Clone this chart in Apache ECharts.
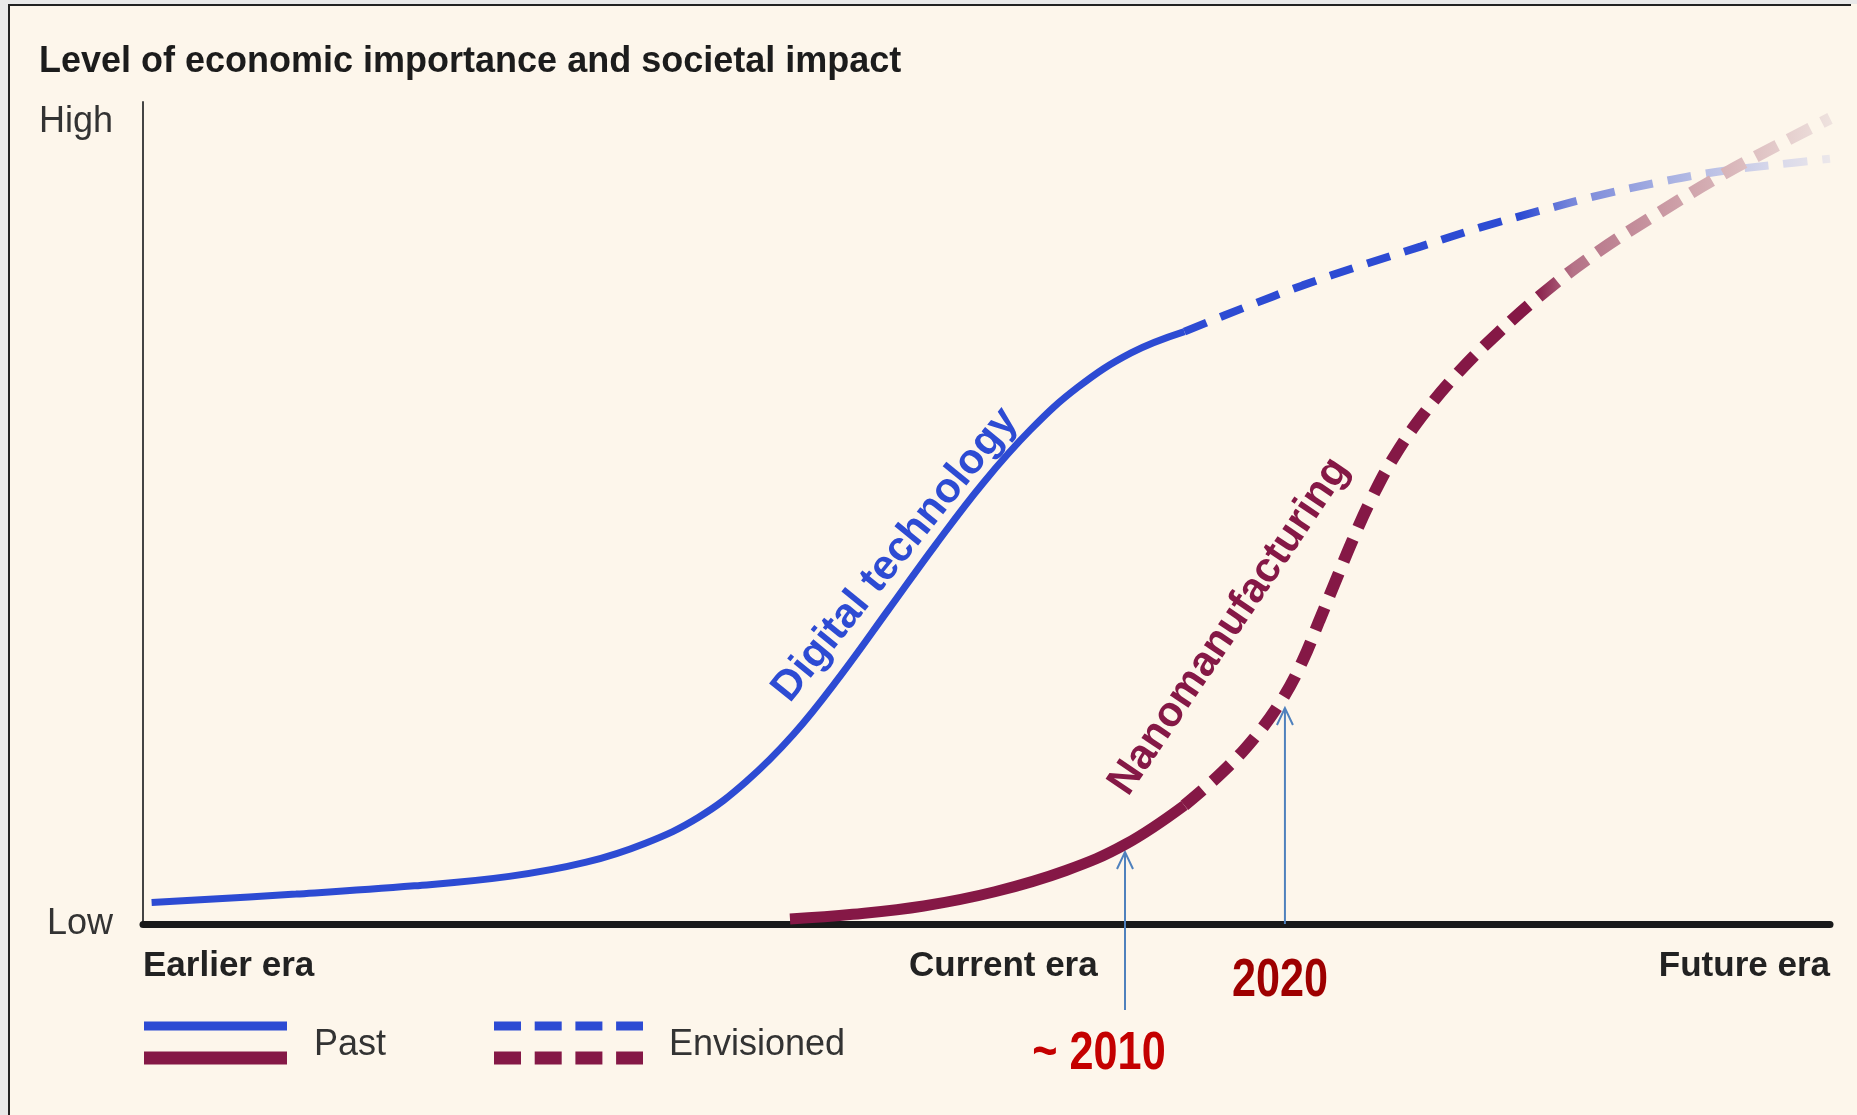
<!DOCTYPE html>
<html>
<head>
<meta charset="utf-8">
<script src="https://cdn.jsdelivr.net/npm/echarts@6/dist/echarts.min.js"></script>
<style>
  html, body { margin: 0; padding: 0; background: #ececec; }
  #main { width: 1857px; height: 1115px; }
</style>
</head>
<body>
<div id="main"></div>
<script>
// era labels on the x axis (value -> text), level labels on the y axis
const eraTicks = {0: 'Earlier era', 51: 'Current era', 100: 'Future era'};
const levelTicks = {0: 'Low', 97.5: 'High'};

// curves, [era, level]
const digitalPast = [
    [0.51, 2.63], [9.07, 3.64], [16.09, 4.64], [21.71, 5.79], [26.27, 7.52],
    [29.78, 9.83], [32.94, 12.99], [35.75, 17.32], [38.56, 23.08], [41.37, 30.28],
    [44.18, 38.21], [46.98, 46.13], [49.79, 53.63], [52.60, 60.11], [55.41, 65.29],
    [58.57, 69.48], [61.73, 72.07]
];
const digitalEnvisioned = [
    [61.73, 72.07], [65.23, 74.95], [68.74, 77.69], [72.25, 80.14], [75.77, 82.44],
    [79.28, 84.74], [82.79, 86.76], [86.30, 88.64], [89.81, 90.22], [93.32, 91.52],
    [96.83, 92.38], [100, 93.10]
];
const nanoPast = [
    [38.35, 0.61], [42.07, 1.18], [46.28, 2.19], [50.49, 3.92], [54.71, 6.51],
    [58.22, 9.68], [61.73, 14.44]
];
const nanoEnvisioned = [
    [61.73, 14.44], [63.98, 18.47], [65.94, 22.80], [67.55, 27.41], [68.74, 32.02],
    [69.73, 36.91], [70.71, 41.81], [71.70, 46.71], [72.82, 51.75], [74.15, 56.80],
    [75.83, 61.84], [77.87, 66.88], [80.33, 71.92], [83.13, 76.97], [86.30, 81.86],
    [89.81, 86.47], [93.32, 90.80], [96.83, 94.68], [100, 98.0]
];

// curve names written along the curves: [era, level, angle]
const curveNames = ['Digital technology', 'Nanomanufacturing'];
const curveNameAt = [[44.6, 44.9, 51], [64.4, 36.2, 56]];

// year arrows: era, level of the tip, level of the tail, level of the year text
const yearLabels = ['~ 2010', '2020'];
const yearX = [58.21, 67.69];
const yearTip = [8.76, 26.28];
const yearTail = [-10.46, 0];
const yearTextLevel = [-15.8, -6.93];

const blue = '#2d4bd3';
const maroon = '#851846';
const arrowBlue = '#4f81bd';
const yearColors = ['#c40000', '#9e0000'];
const yearTextShift = [-26, -5];
const font = '"Liberation Sans", Arial, Helvetica, sans-serif';

const fadeBlue = {
    type: 'linear', x: 0, y: 0, x2: 1, y2: 0,
    colorStops: [
        {offset: 0, color: blue}, {offset: 0.52, color: blue},
        {offset: 0.60, color: '#7887da'}, {offset: 0.75, color: '#a9b2e2'},
        {offset: 0.9, color: '#d5d6ea'}, {offset: 1, color: '#ede8ea'}
    ]
};
const fadeMaroon = {
    type: 'linear', x: 0, y: 0, x2: 1, y2: 0,
    colorStops: [
        {offset: 0, color: maroon}, {offset: 0.54, color: maroon},
        {offset: 0.60, color: '#b57287'}, {offset: 0.75, color: '#cc9da6'},
        {offset: 0.9, color: '#e2c8c8'}, {offset: 1, color: '#efe4e0'}
    ]
};

function curve(name, data, color, width, dash) {
    return {
        name, type: 'line', data, smooth: 0.4, symbol: 'none', clip: false,
        lineStyle: {color, width, type: dash || 'solid', cap: 'butt'},
        silent: true
    };
}

const option = {
    animation: false,
    backgroundColor: '#fdf6eb',
    textStyle: {fontFamily: font},
    title: {
        text: 'Level of economic importance and societal impact',
        left: 39, top: 44, padding: 0,
        textStyle: {fontSize: 36, fontWeight: 'bold', color: '#1c1c1c', fontFamily: font}
    },
    grid: {left: 143, right: 27, top: 102, bottom: 191},
    xAxis: {
        type: 'value', min: 0, max: 100, interval: 51,
        axisLine: {lineStyle: {color: '#1a1a1a', width: 7}},
        axisTick: {show: false},
        splitLine: {show: false},
        axisLabel: {
            formatter: v => eraTicks[v] || '',
            fontSize: 35, fontWeight: 'bold', color: '#222', margin: 25,
            alignMinLabel: 'left', alignMaxLabel: 'right', fontFamily: font
        }
    },
    yAxis: {
        type: 'value', min: 0, max: 100, interval: 97.5,
        axisLine: {show: true, lineStyle: {color: '#444', width: 2}},
        axisTick: {show: false},
        splitLine: {show: false},
        axisLabel: {
            formatter: v => levelTicks[v] || '',
            fontSize: 36, color: '#333', margin: 30, fontFamily: font
        }
    },
    series: [
        curve('Digital technology', digitalPast, blue, 7),
        curve('Digital technology envisioned', digitalEnvisioned, fadeBlue, 8, [24, 15]),
        curve('Nanomanufacturing', nanoPast, maroon, 11),
        curve('Nanomanufacturing envisioned', nanoEnvisioned, fadeMaroon, 12, [24, 13]),
        {
            type: 'scatter', silent: true, symbolSize: 1,
            itemStyle: {color: 'rgba(0,0,0,0)', opacity: 1},
            data: curveNameAt.map((p, i) => ({
                value: [p[0], p[1]],
                label: {
                    show: true, position: 'inside', rotate: p[2],
                    formatter: curveNames[i], fontSize: 42, fontWeight: 'bold',
                    color: i === 0 ? blue : maroon, fontFamily: font, opacity: 1
                }
            }))
        },
        {
            type: 'custom', silent: true, clip: false,
            data: yearX.map((x, i) => [x, yearTip[i], yearTail[i]]),
            renderItem: (params, api) => {
                const tip = api.coord([api.value(0), api.value(1)]);
                const tail = api.coord([api.value(0), api.value(2)]);
                return {
                    type: 'group',
                    children: [
                        {type: 'line', shape: {x1: tail[0], y1: tail[1], x2: tip[0], y2: tip[1]},
                         style: {stroke: arrowBlue, lineWidth: 2}},
                        {type: 'polyline',
                         shape: {points: [[tip[0] - 8, tip[1] + 17], [tip[0], tip[1]], [tip[0] + 8, tip[1] + 17]]},
                         style: {stroke: arrowBlue, lineWidth: 2, fill: null}}
                    ]
                };
            }
        }
    ]
};

const chart = echarts.init(document.getElementById('main'));
chart.setOption(option);

// year texts under the arrows, placed through the grid's own scales
const yearTexts = yearX.map((x, i) => {
    const p = chart.convertToPixel({gridIndex: 0}, [x, yearTextLevel[i]]);
    return {
        type: 'text', x: p[0] + yearTextShift[i], y: p[1], scaleX: 0.8, silent: true,
        style: {text: yearLabels[i], fill: yearColors[i], fontSize: 54, fontWeight: 'bold',
                fontFamily: font, align: 'center', verticalAlign: 'middle'}
    };
});

chart.setOption({
    graphic: [
        // page frame
        {type: 'rect', shape: {x: 0, y: 0, width: 8, height: 1115}, style: {fill: '#e9e9e9'}},
        {type: 'rect', shape: {x: 0, y: 0, width: 1857, height: 4}, style: {fill: '#e9e9e9'}},
        {type: 'line', shape: {x1: 9, y1: 4, x2: 9, y2: 1115}, style: {stroke: '#222', lineWidth: 2}},
        {type: 'line', shape: {x1: 8, y1: 5, x2: 1851, y2: 5}, style: {stroke: '#222', lineWidth: 2}},
        // legend
        {type: 'line', shape: {x1: 144, y1: 1026, x2: 287, y2: 1026}, style: {stroke: blue, lineWidth: 9}},
        {type: 'line', shape: {x1: 144, y1: 1058, x2: 287, y2: 1058}, style: {stroke: maroon, lineWidth: 13}},
        {type: 'text', x: 314, y: 1045,
         style: {text: 'Past', fontSize: 36, fill: '#333', fontFamily: font, verticalAlign: 'middle'}},
        {type: 'line', shape: {x1: 494, y1: 1026, x2: 643, y2: 1026},
         style: {stroke: blue, lineWidth: 9, lineDash: [27, 13.7]}},
        {type: 'line', shape: {x1: 494, y1: 1058, x2: 643, y2: 1058},
         style: {stroke: maroon, lineWidth: 13, lineDash: [27, 13.7]}},
        {type: 'text', x: 669, y: 1045,
         style: {text: 'Envisioned', fontSize: 36, fill: '#333', fontFamily: font, verticalAlign: 'middle'}}
    ].concat(yearTexts)
});
</script>
</body>
</html>
